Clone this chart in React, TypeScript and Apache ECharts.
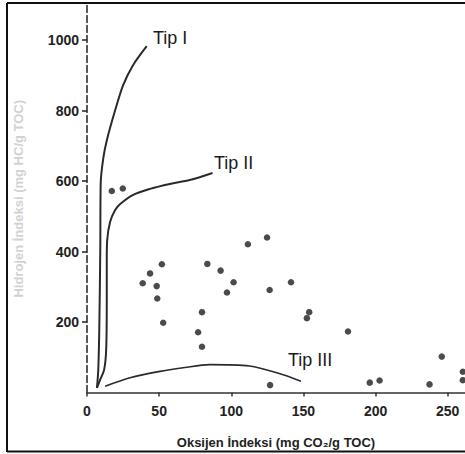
import React, { useEffect, useRef } from "react";
import * as echarts from "echarts";

const xTicks = [0, 50, 100, 150, 200, 250];
const yTicks = [200, 400, 600, 800, 1000];

const samples: [number, number][] = [
  [17.2, 572], [24.8, 579],
  [43.7, 338], [38.6, 310], [48.3, 302], [48.7, 267], [51.9, 364],
  [83.4, 365], [92.6, 346], [101.6, 313], [97, 284], [111.5, 421], [124.8, 440], [126.6, 291], [141.4, 313],
  [52.8, 198], [79.7, 228], [77, 171], [79.7, 130], [154, 228], [152.4, 211], [180.9, 173],
  [126.9, 21], [196, 28], [202.8, 34], [237.4, 23], [245.9, 102], [260.5, 59], [260.5, 35],
];

const tipI: [number, number][] = [
  [6.9, 13], [7.8, 64], [8.5, 177], [9.2, 404], [9.5, 595], [11.4, 668], [13.8, 717],
  [19.5, 801], [25, 872], [31.9, 929], [41.4, 983],
];

const tipII: [number, number][] = [
  [6.9, 13], [9.2, 37], [11.9, 65], [13.3, 122], [13.7, 263], [13.7, 377], [14, 433],
  [16, 484], [19.5, 518], [23, 535], [32, 561], [43.7, 578], [57.4, 592], [71.2, 603], [87, 623],
];

const tipIII: [number, number][] = [
  [12.6, 18], [29.9, 42], [50.6, 60], [67.8, 71], [85, 79], [112.6, 75], [135.4, 51], [148.3, 32],
];

const labels = ["Tip I", "Tip II", "Tip III"];

export default function App() {
  const ref = useRef<HTMLDivElement>(null);
  useEffect(() => {
    if (!ref.current) return;
    const chart = echarts.init(ref.current, undefined, { renderer: "svg" });
    const font = "Liberation Sans";
    const lineStyle = (w: number) => ({ color: "#2a2a2a", width: w });
    chart.setOption({
      animation: false,
      backgroundColor: "#fff",
      textStyle: { fontFamily: font },
      grid: { left: 87, top: 5, width: 380, height: 387.5 },
      xAxis: {
        type: "value",
        min: 0,
        max: 262,
        interval: 50,
        name: "Oksijen İndeksi (mg CO₂/g TOC)",
        nameLocation: "middle",
        nameGap: 43,
        nameTextStyle: { fontSize: 13, fontWeight: "bold", color: "#222" },
        axisLine: { lineStyle: { color: "#333", width: 1.5 } },
        axisTick: { show: true, length: 4, customValues: xTicks, lineStyle: { color: "#333", width: 1.5 } },
        axisLabel: {
          fontSize: 14, fontWeight: "bold", color: "#222", margin: 11, customValues: xTicks,
          formatter: (v: number) => String(v),
        },
        splitLine: { show: false },
      },
      yAxis: {
        type: "value",
        min: 0,
        max: 1100,
        interval: 200,
        name: "Hidrojen İndeksi (mg HC/g TOC)",
        nameLocation: "middle",
        nameGap: 62,
        nameTextStyle: { fontSize: 13, fontWeight: "bold", color: "#d2d2d2" },
        axisLine: { lineStyle: { color: "#222", width: 1.5, type: [7, 3] } },
        axisTick: { show: true, length: 5, customValues: yTicks, lineStyle: { color: "#222", width: 1.5 } },
        axisLabel: {
          fontSize: 14, fontWeight: "bold", color: "#222", margin: 8, customValues: yTicks,
          formatter: (v: number) => String(v),
        },
        splitLine: { show: false },
      },
      series: [
        { type: "line", data: tipI, smooth: 0.3, showSymbol: false, lineStyle: lineStyle(2), z: 2 },
        { type: "line", data: tipII, smooth: 0.3, showSymbol: false, lineStyle: lineStyle(2), z: 2 },
        { type: "line", data: tipIII, smooth: 0.3, showSymbol: false, lineStyle: lineStyle(1.6), z: 2 },
        {
          type: "scatter",
          data: samples,
          symbol: "circle",
          symbolSize: 6.5,
          itemStyle: { color: "#1e1e1e" },
          z: 3,
        },
      ],
      graphic: [
        { type: "line", shape: { x1: 7, y1: 3, x2: 465, y2: 3 }, style: { stroke: "#111", lineWidth: 2 } },
        { type: "line", shape: { x1: 7, y1: 3, x2: 7, y2: 452 }, style: { stroke: "#111", lineWidth: 2 } },
        { type: "line", shape: { x1: 7, y1: 451.5, x2: 465, y2: 451.5 }, style: { stroke: "#111", lineWidth: 2 } },
        { type: "text", x: 153, y: 29, style: { text: labels[0], fontSize: 18, fontFamily: font, fill: "#1a1a1a" } },
        { type: "text", x: 214, y: 154, style: { text: labels[1], fontSize: 18, fontFamily: font, fill: "#1a1a1a" } },
        { type: "text", x: 288, y: 351, style: { text: labels[2], fontSize: 18, fontFamily: font, fill: "#1a1a1a" } },
      ],
    });
    return () => chart.dispose();
  }, []);
  return (
    <div
      ref={ref}
      style={{ position: "fixed", left: 0, top: 0, width: 465, height: 454 }}
    />
  );
}
